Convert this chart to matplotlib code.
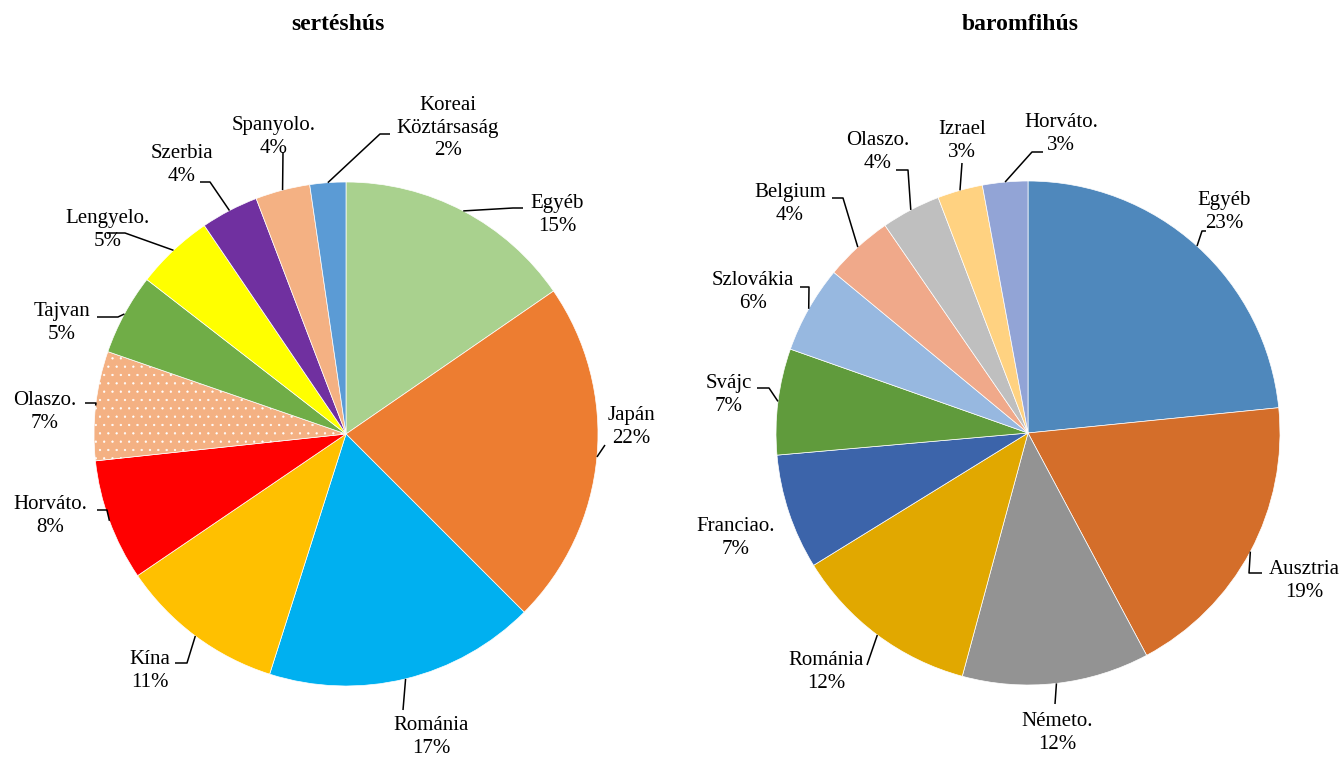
import matplotlib
matplotlib.use("Agg")
import matplotlib.pyplot as plt
import numpy as np

W, H = 1344, 758  # canvas in pixels, axes data units = pixels

# sertéshús (pork) export shares
pork_labels = ["Egyéb", "Japán", "Románia", "Kína", "Horváto.", "Olaszo.",
               "Tajvan", "Lengyelo.", "Szerbia", "Spanyolo.", "Koreai\nKöztársaság"]
pork_values = [15.4, 22.1, 17.4, 10.6, 7.8, 7.0, 5.2, 5.0, 3.7, 3.5, 2.3]
pork_colors = ["#A9D18E", "#ED7D31", "#00B0F0", "#FFC000", "#FF0000", "#F4B183",
               "#70AD47", "#FFFF00", "#7030A0", "#F4B183", "#5B9BD5"]

# baromfihús (poultry) export shares
poultry_labels = ["Egyéb", "Ausztria", "Németo.", "Románia", "Franciao.", "Svájc",
                  "Szlovákia", "Belgium", "Olaszo.", "Izrael", "Horváto."]
poultry_values = [23.4, 18.8, 12.0, 12.0, 7.4, 6.8, 5.6, 4.4, 3.8, 2.9, 2.9]
poultry_colors = ["#4F88BC", "#D46E2A", "#939393", "#E1A800", "#3C64AA", "#609B3C",
                  "#97B8E0", "#F0A98A", "#BFBFBF", "#FFD281", "#92A4D6"]

# label layout (pixel coords, y from top): text centre, leader elbow, leader end
pork_text_pos = [(557, 215), (631, 427), (431, 737), (150, 671), (50, 516), (45, 412),
                 (62, 323), (108, 230), (182, 165), (274, 137), (448, 128)]
pork_leaders = [((513, 208), (523, 208)), ((605, 445), (605, 445)), ((403, 710), (403, 710)),
                ((187, 663), (175, 663)), ((107, 510), (97, 510)), ((96, 403), (85, 403)),
                ((118, 317), (97, 317)), ((125, 233), (107, 233)), ((210, 182), (200, 182)),
                ((283, 152), (283, 152)), ((380, 134), (390, 134))]

poultry_text_pos = [(1224, 212), (1304, 581), (1057, 733), (826, 672), (736, 538), (729, 395),
                    (753, 292), (790, 204), (878, 152), (962, 141), (1061, 134)]
poultry_leaders = [((1202, 231), (1206, 231)), ((1249, 573), (1262, 573)),
                   ((1055, 704), (1055, 704)), ((867, 665), (867, 665)), None,
                   ((769, 388), (757, 388)), ((809, 287), (800, 287)), ((843, 198), (832, 198)),
                   ((908, 170), (896, 170)), ((962, 163), (962, 163)), ((1032, 152), (1043, 152))]

FONT = "Liberation Serif"
LABEL_SIZE = 15
plt.rcParams["hatch.linewidth"] = 0.4


def draw_pie(ax, values, colors, labels, text_pos, leaders, center, radius, title, hatched=None):
  cx, cy = center
  wedges, _ = ax.pie(values, colors=colors, startangle=90, counterclock=False,
                     center=(cx, H - cy), radius=radius,
                     wedgeprops=dict(edgecolor="white", linewidth=0.5))
  if hatched is not None:
    wedges[hatched].set_hatch("..")
    wedges[hatched].set_edgecolor("white")

  total = float(sum(values))
  cum = np.cumsum([0] + list(values))[:-1]
  for i, (lab, v) in enumerate(zip(labels, values)):
    tx, ty = text_pos[i]
    ax.text(tx, H - ty, f"{lab}\n{round(v / total * 100)}%", ha="center", va="center",
            family=FONT, fontsize=LABEL_SIZE, linespacing=1.25, color="black")
    if leaders[i] is None:
      continue
    theta = np.radians(360 * (cum[i] + v / 2) / total)
    ex, ey = cx + radius * np.sin(theta), cy - radius * np.cos(theta)
    (bx, by), (lx, ly) = leaders[i]
    ax.plot([ex, bx, lx], [H - ey, H - by, H - ly], color="black", lw=1.1,
            solid_capstyle="butt", zorder=5)

  ax.text(cx - 8, H - 25, title, ha="center", va="center", family=FONT,
          fontsize=17, fontweight="bold")


fig = plt.figure(figsize=(W / 100, H / 100), dpi=100)
ax = fig.add_axes([0, 0, 1, 1])

draw_pie(ax, pork_values, pork_colors, pork_labels, pork_text_pos, pork_leaders,
         (346, 434), 252, "sertéshús", hatched=5)
draw_pie(ax, poultry_values, poultry_colors, poultry_labels, poultry_text_pos, poultry_leaders,
         (1028, 433), 252, "baromfihús")

ax.set_xlim(0, W)
ax.set_ylim(0, H)
ax.set_aspect("equal")
ax.set_axis_off()

fig.savefig("out.png", dpi=100, facecolor="white")
